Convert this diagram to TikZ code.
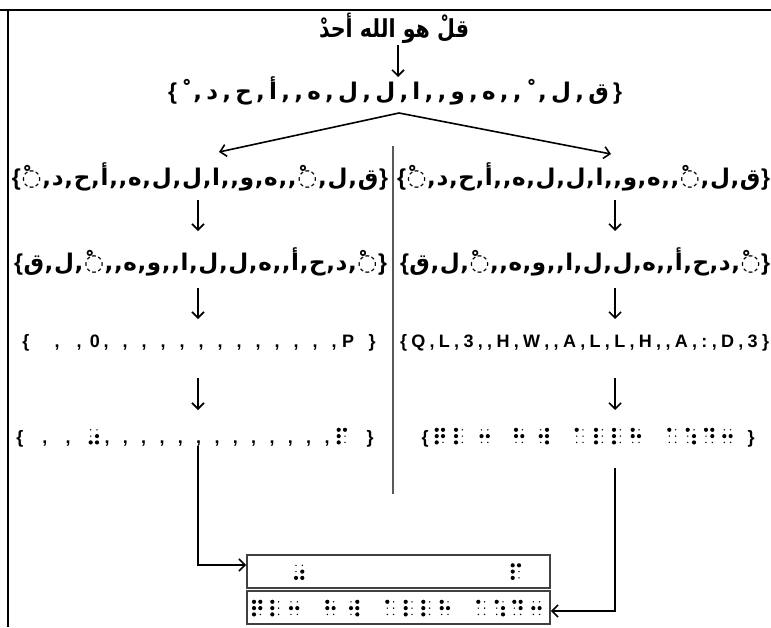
\documentclass[tikz,border=0pt]{standalone}
\usepackage{fontspec}
\usepackage{graphicx}
\setmainfont{Liberation Sans}
\newfontfamily\arb[Script=Arabic,BoldFont={DejaVu Sans Bold}]{DejaVu Sans}
\newfontfamily\latb{Liberation Sans Bold}
\TeXXeTstate=1
\usetikzlibrary{arrows.meta}
% evenly spread single tokens over a fixed width (\beginR ... \endR segments allowed)
\def\spread#1#2{\makebox[#1]{\spcstart#2\relax}}
\def\spcstart#1{\ifx\beginR#1\def\spcnext{\beginR\spcfirst}\else\def\spcnext{#1\spcA}\fi\spcnext}
\def\spcfirst#1{#1\spcA}
\def\spcA#1{\ifx\relax#1\let\spcnext\relax\else
  \ifx\endR#1\def\spcnext{\endR\spcA}\else
  \ifx\beginR#1\def\spcnext{\hfill\beginR\spcfirst}\else
  \def\spcnext{\hfill#1\spcA}\fi\fi\fi\spcnext}
\newcommand\LB{{\latb\{}}
\newcommand\RB{{\latb\}}}
\newcommand\SK{\char"00A0ْ}
\newcommand\DS{◌ْ}
\newcommand\arbrow{\arb\bfseries\fontsize{23}{25}\selectfont}
\newcommand\latrow{\latb\fontsize{18}{20}\selectfont}
% braille cells
\def\bdx{6.3}\def\bdy{6.3}\def\bbr{2.1pt}\def\bsr{0.8pt}
\newcommand\bdot[3]{\ifnum#3=1 \fill (#1,#2) circle[radius=\bbr];\else\fill (#1,#2) circle[radius=\bsr];\fi}
\newcommand\bcellB[8]{\bdot{#1}{#2}{#3}\bdot{#1}{#2+\bdy}{#4}\bdot{#1}{#2+2*\bdy}{#5}\bdot{#1+\bdx}{#2}{#6}\bdot{#1+\bdx}{#2+\bdy}{#7}\bdot{#1+\bdx}{#2+2*\bdy}{#8}}
\newcommand\bcell[3]{\edef\tmpb{\noexpand\bcellB{#1}{#2}#3}\tmpb}
\begin{document}
\begin{tikzpicture}[x=1pt,y=-1pt,
  arr/.style={-{Straight Barb[length=6pt,width=12pt]},line width=1.6pt},
  arab/.style={inner sep=0,anchor=base},
  lat/.style={inner sep=0,anchor=base},
  bbox/.style={draw=black!75,line width=1.8pt,minimum width=303pt,minimum height=33pt,inner sep=0}]
\useasboundingbox (0,0) rectangle (771,627);
% frame
\draw[line width=1.6pt] (0,10) -- (771,10);
\draw[line width=1.8pt] (8,10) -- (8,627);
% title
\node[inner sep=0] (title) at (394,28) {\scalebox{1}[1.2]{\resizebox{150pt}{!}{\arb\bfseries\fontsize{20}{24}\selectfont\beginR قلْ هو الله أحدْ\endR}}};
% row 1
\node[arab] (r1) at (395,99) {\arbrow\spread{454pt}{\LB \beginR ق , ل , \SK , , ه , و , , ا , ل , ل , ه , , أ , ح , د , \SK \endR \RB}};
% row 2
\node[arab] (r2l) at (200,185) {\arbrow\spread{376pt}{\LB \beginR ق , ل , \DS , , ه , و , , ا , ل , ل , ه , , أ , ح , د , \DS \endR \RB}};
\node[arab] (r2r) at (583.5,185) {\arbrow\spread{373pt}{\LB \beginR ق , ل , \DS , , ه , و , , ا , ل , ل , ه , , أ , ح , د , \DS \endR \RB}};
% row 3
\node[arab] (r3l) at (200.5,270) {\arbrow\spread{373pt}{\LB \beginR \DS , د , ح , أ , , ه , ل , ل , ا , , و , ه , , \DS , ل , ق \endR \RB}};
\node[arab] (r3r) at (585,270) {\arbrow\spread{370pt}{\LB \beginR \DS , د , ح , أ , , ه , ل , ل , ا , , و , ه , , \DS , ل , ق \endR \RB}};
% row 4 left
\node[lat] (r4lo) at (26,347) {\latrow\{};
\node[lat] (r4l0) at (95,347) {\latrow 0};
\node[lat] (r4lp) at (348,347) {\latrow P};
\node[lat] (r4lc) at (372,347) {\latrow\}};
\foreach \x [count=\i] in {57,79,106,125,144,163,182,201,220,239,258,277,296,315,334}
  \node[lat] (r4k\i) at (\x,347) {\latrow ,};
% row 4 right
\node[lat] (r4r) at (584.5,347) {\latrow\spread{369pt}{\{ Q , L , 3 , , H , W , , A , L , L , H , , A , : , D , 3 \}}};
% row 5 left
\node[lat] (r5lo) at (20,443) {\latrow\{};
\node[lat] (r5lc) at (370,443) {\latrow\}};
\foreach \x [count=\i] in {45,68,107,125.3,143.7,162,180.3,198.7,217,235.3,253.7,272,290.3,308.7,327}
  \node[lat] (r5k\i) at (\x,443) {\latrow ,};
\bcell{90.7}{429.8}{001011}
\bcell{338.7}{429.8}{111100}
% row 5 right
\node[lat] (r5ro) at (425,443) {\latrow\{};
\node[lat] (r5rc) at (751,443) {\latrow\}};
\foreach \x/\p in {436.7/111110,456/111000,481.5/010010,516/110010,540.7/010111,576.7/100000,596/111000,614/111000,632.7/110010,669.3/100000,687.7/100011,706/100110,724.3/010010}
  \bcell{\x}{429.8}{\p};
% boxes
\node[bbox] (b1) at (398.5,571.5) {};
\node[bbox] (b2) at (398.5,607.5) {};
\bcell{296}{565.3}{001011}
\bcell{512.7}{565.3}{111100}
\foreach \x/\p in {254/111110,272.3/111000,291/010010,327.3/110010,351/010111,387.3/100000,405.7/111000,423.3/111000,441.7/110010,478.3/100000,496.7/100011,514.3/100110,533.3/010010}
  \bcell{\x}{601.8}{\p};
% divider
\draw[black!65,line width=1.2pt] (393,146) -- (393,494);
% connectors
\coordinate (t0) at (398,45); \coordinate (t1) at (398,77);
\draw[arr] (t0) -- (t1);
\coordinate (apex) at (399,113);
\coordinate (lt) at (219,152); \coordinate (rt) at (611,154);
\draw[arr] (apex) -- (lt);
\draw[arr] (apex) -- (rt);
\foreach \xa/\nm in {198/l,615/r}{
  \coordinate (a1\nm) at (\xa,200); \coordinate (b1\nm) at (\xa,231);
  \coordinate (a2\nm) at (\xa,288); \coordinate (b2\nm) at (\xa,319);
  \coordinate (a3\nm) at (\xa,378); \coordinate (b3\nm) at (\xa,410);
  \draw[arr] (a1\nm) -- (b1\nm);
  \draw[arr] (a2\nm) -- (b2\nm);
  \draw[arr] (a3\nm) -- (b3\nm);
}
\coordinate (ls) at (198,446);
\coordinate (rs) at (615,468);
\draw[arr] (ls) |- ([yshift=6.5pt]b1.west);
\draw[arr] (rs) |- ([yshift=-3.5pt]b2.east);
\end{tikzpicture}
\end{document}
